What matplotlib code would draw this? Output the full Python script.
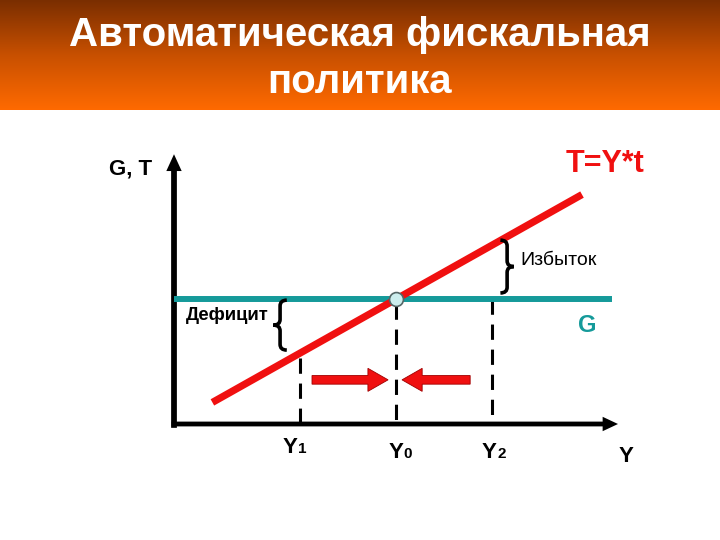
"""Automatic fiscal policy diagram: G and T=Y*t lines with built-in stabilisers."""

import matplotlib
matplotlib.use("Agg")
import matplotlib.pyplot as plt
import matplotlib as mpl
import numpy as np
from matplotlib.colors import LinearSegmentedColormap
from matplotlib.patches import FancyArrow, PathPatch
from matplotlib.path import Path

mpl.rcParams.update({
    "font.family": ["Liberation Sans", "DejaVu Sans"],
    "font.size": 12,
})

# ---- values (1 unit = 48 px) ----
y_levels = [2.625, 4.625, 6.625]          # Y1, Y0, Y2
y_names = ["1", "0", "2"]
g_level = 2.6                              # government spending G
tax_y = [0.8, 8.5]                         # T = Y*t line, ends
tax_t = [0.45, 4.78]
dash_tops = [1.38, 2.5, 2.6]               # where dashed drops start
arrow_from = [2.875, 6.17]                 # red adjustment arrows
arrow_to = [4.46, 4.75]
arrow_level = 0.92

title = "Автоматическая фискальная\nполитика"
RED = "#f01010"
TEAL = "#159a9a"

fig = plt.figure(figsize=(7.2, 5.4), dpi=100, facecolor="white")

# main drawing area: whole figure, origin at pixel (174, 424)
ax = fig.add_axes([0, 0, 1, 1])
ax.set_xlim(-174 / 48, (720 - 174) / 48)
ax.set_ylim((424 - 540) / 48, 424 / 48)
ax.axis("off")

# axes with arrow heads
ax.add_patch(FancyArrow(-0.05, 0, 9.3, 0, width=0.1, head_width=0.3,
                        head_length=0.32, length_includes_head=True,
                        color="black", lw=0))
ax.add_patch(FancyArrow(0, -0.08, 0, 5.7, width=0.12, head_width=0.32,
                        head_length=0.35, length_includes_head=True,
                        color="black", lw=0))

# G line and tax line
ax.plot([0, 9.125], [g_level, g_level], color=TEAL, lw=4.3,
        solid_capstyle="butt", zorder=3)
ax.plot(tax_y, tax_t, color=RED, lw=5.2, solid_capstyle="butt", zorder=4)

# dashed drops to Y1, Y0, Y2
for x, top in zip(y_levels, dash_tops):
    ax.plot([x, x], [top, 0.05], color="black", lw=2.2,
            dashes=(5, 3.2), zorder=2)

# equilibrium point
ax.plot(y_levels[1], g_level, "o", ms=10, mfc="#cdeeee", mec="#556666",
        mew=1.2, zorder=6)

# red arrows pointing at Y0
for x0, x1 in zip(arrow_from, arrow_to):
    ax.add_patch(FancyArrow(x0, arrow_level, x1 - x0, 0, width=0.18,
                            head_width=0.48, head_length=0.42,
                            length_includes_head=True, fc=RED,
                            ec="#a00000", lw=0.6, zorder=5))


def brace(xs, bot, top, d, e=0.14, q=0.12):
    xe, xt, mid = xs - d * e, xs + d * e, (bot + top) / 2
    verts = [(xe, top), (xs, top), (xs, top - q), (xs, mid + q),
             (xs, mid), (xt, mid), (xs, mid), (xs, mid - q),
             (xs, bot + q), (xs, bot), (xe, bot)]
    codes = [Path.MOVETO, Path.CURVE3, Path.CURVE3, Path.LINETO,
             Path.CURVE3, Path.CURVE3, Path.CURVE3, Path.CURVE3,
             Path.LINETO, Path.CURVE3, Path.CURVE3]
    ax.add_patch(PathPatch(Path(verts, codes), fill=False, lw=2.6,
                           ec="black", zorder=5))


brace(2.21, 1.54, 2.58, -1)   # deficit
brace(6.94, 2.73, 3.83, 1)    # surplus

# labels
ax.text(-0.9, 5.32, "G, T", fontsize=16, fontweight="bold",
        ha="center", va="center")
ax.text(8.98, 5.42, "T=Y*t", fontsize=22, fontweight="bold", color=RED,
        ha="center", va="center")
ax.text(8.6, 2.05, "G", fontsize=17, fontweight="bold", color=TEAL,
        ha="center", va="center")
ax.text(7.21, 3.40, "Избыток", fontsize=14, ha="left", va="center")
ax.text(0.25, 2.25, "Дефицит", fontsize=13.3, fontweight="bold",
        ha="left", va="center")
ax.text(9.42, -0.67, "Y", fontsize=16, fontweight="bold",
        ha="center", va="center")

label_shift = [-0.06, 0.15, 0.1]
label_base = [-0.604, -0.708, -0.708]
for x, name, dx, yb in zip(y_levels, y_names, label_shift, label_base):
    ax.text(x + dx, yb, "Y", fontsize=16, fontweight="bold",
            ha="right", va="baseline")
    ax.text(x + dx + 0.01, yb, name, fontsize=11, fontweight="bold",
            ha="left", va="baseline")

# header band with gradient
hax = fig.add_axes([0, 1 - 110 / 540, 1, 110 / 540])
cmap = LinearSegmentedColormap.from_list("hdr", ["#7a2e00", "#c85000", "#ff6a00"])
hax.imshow(np.linspace(0, 1, 256).reshape(-1, 1), aspect="auto", cmap=cmap,
           extent=[0, 1, 0, 1], origin="upper")
hax.set_xlim(0, 1)
hax.set_ylim(0, 1)
hax.axis("off")
hax.text(0.5, 0.68, title.split("\n")[0], color="white", fontsize=29,
         fontweight="bold", ha="center", va="center")
hax.text(0.5, 0.255, title.split("\n")[1], color="white", fontsize=29,
         fontweight="bold", ha="center", va="center")

fig.savefig("out.png", dpi=100, facecolor="white")
